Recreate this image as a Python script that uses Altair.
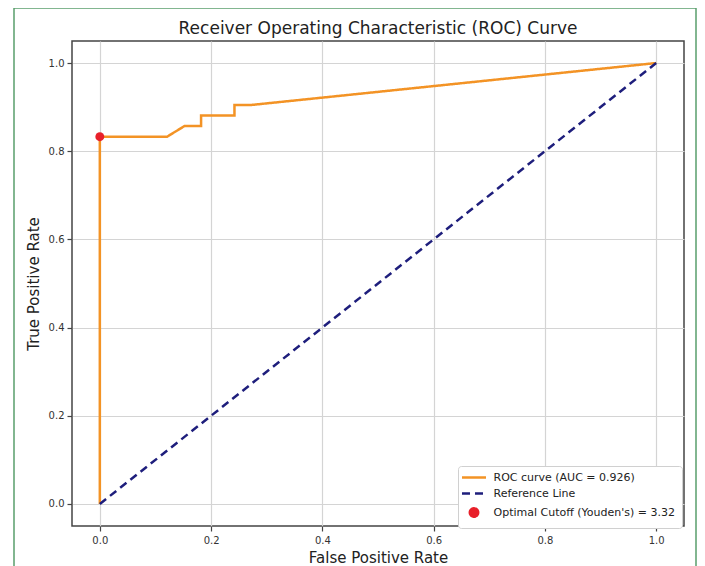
import altair as alt
import pandas as pd

# ---- data ----
roc_fpr = [0.0, 0.0, 0.121, 0.152, 0.182, 0.182, 0.242, 0.242, 0.273, 1.0]
roc_tpr = [0.0, 0.833, 0.833, 0.857, 0.857, 0.881, 0.881, 0.905, 0.905, 1.0]
ref_fpr = [0.0, 1.0]
ref_tpr = [0.0, 1.0]
opt_fpr = [0.0]
opt_tpr = [0.833]
series_labels = [
    "ROC curve (AUC = 0.926)",
    "Reference Line",
    "Optimal Cutoff (Youden's) = 3.32",
]
tick_values = [0.0, 0.2, 0.4, 0.6, 0.8, 1.0]

series_colors = ["#f39325", "#1e1e7c", "#e8202a"]
FONT = "DejaVu Sans"

lines_df = pd.DataFrame(
    {
        "series": [series_labels[0]] * len(roc_fpr) + [series_labels[1]] * len(ref_fpr),
        "fpr": roc_fpr + ref_fpr,
        "tpr": roc_tpr + ref_tpr,
        "idx": list(range(len(roc_fpr))) + list(range(len(ref_fpr))),
    }
)
opt_df = pd.DataFrame({"series": [series_labels[2]] * len(opt_fpr), "fpr": opt_fpr, "tpr": opt_tpr})

xscale = alt.Scale(domain=[-0.05, 1.05], nice=False, zero=False)
yscale = alt.Scale(domain=[-0.05, 1.05], nice=False, zero=False)
xaxis = alt.Axis(values=tick_values, format=".1f", title="False Positive Rate", labelPadding=4, titlePadding=5)
yaxis = alt.Axis(values=tick_values, format=".1f", title="True Positive Rate", labelPadding=3, titlePadding=7)

legend = alt.Legend(
    title=None,
    orient="none",
    legendX=386,
    legendY=425,
    padding=6,
    fillColor="white",
    strokeColor="#d0d0d0",
    cornerRadius=3,
    labelFont=FONT,
    labelFontSize=11,
    labelColor="#222222",
    labelLimit=400,
    symbolStrokeWidth=2.5,
    symbolSize=70,
    symbolFillColor="#e8202a",
    symbolOffset=4.5,
    rowPadding=4,
    labelOffset=14,
)

color = alt.Color("series:N", scale=alt.Scale(domain=series_labels, range=series_colors), legend=legend)
line_path = "M-2.87,0L2.87,0"

frame = alt.Chart(pd.DataFrame({"a": [0]})).mark_rect(
    fill="white", fillOpacity=0, stroke="#5a9e6c", strokeWidth=1.5
).encode(x=alt.value(-58), x2=alt.value(624), y=alt.value(-33), y2=alt.value(560))

lines = alt.Chart(lines_df).mark_line(strokeWidth=2.5).encode(
    x=alt.X("fpr:Q", scale=xscale, axis=xaxis),
    y=alt.Y("tpr:Q", scale=yscale, axis=yaxis),
    color=color,
    strokeDash=alt.StrokeDash(
        "series:N",
        scale=alt.Scale(domain=series_labels, range=[[1, 0], [8, 5], [1, 0]]),
        legend=legend,
    ),
    order="idx:Q",
)

points = alt.Chart(opt_df).mark_point(filled=True, size=80, opacity=1).encode(
    x=alt.X("fpr:Q", scale=xscale, axis=xaxis),
    y=alt.Y("tpr:Q", scale=yscale, axis=yaxis),
    color=color,
    shape=alt.Shape(
        "series:N",
        scale=alt.Scale(domain=series_labels, range=[line_path, line_path, "circle"]),
        legend=legend,
    ),
)

chart = (
    alt.layer(frame, lines, points)
    .properties(
        width=612,
        height=485,
        autosize=alt.AutoSizeParams(type="none"),
        padding={"left": 64, "top": 33, "right": 13, "bottom": 42},
        title=alt.TitleParams(
            "Receiver Operating Characteristic (ROC) Curve",
            font=FONT,
            fontSize=17,
            fontWeight="normal",
            color="#222222",
            anchor="middle",
            frame="group",
            offset=0,
            dy=31,
        ),
    )
    .configure_view(stroke="#444444", strokeWidth=1.5)
    .configure_axis(
        domain=False,
        grid=True,
        gridColor="#d4d4d4",
        gridWidth=1.2,
        tickColor="#444444",
        tickSize=5,
        tickWidth=1.2,
        labelFont=FONT,
        labelFontSize=10,
        labelColor="#333333",
        titleFont=FONT,
        titleFontSize=15,
        titleFontWeight="normal",
        titleColor="#222222",
    )
)

chart.save("out.html", embed_options={"renderer": "svg", "actions": False})
